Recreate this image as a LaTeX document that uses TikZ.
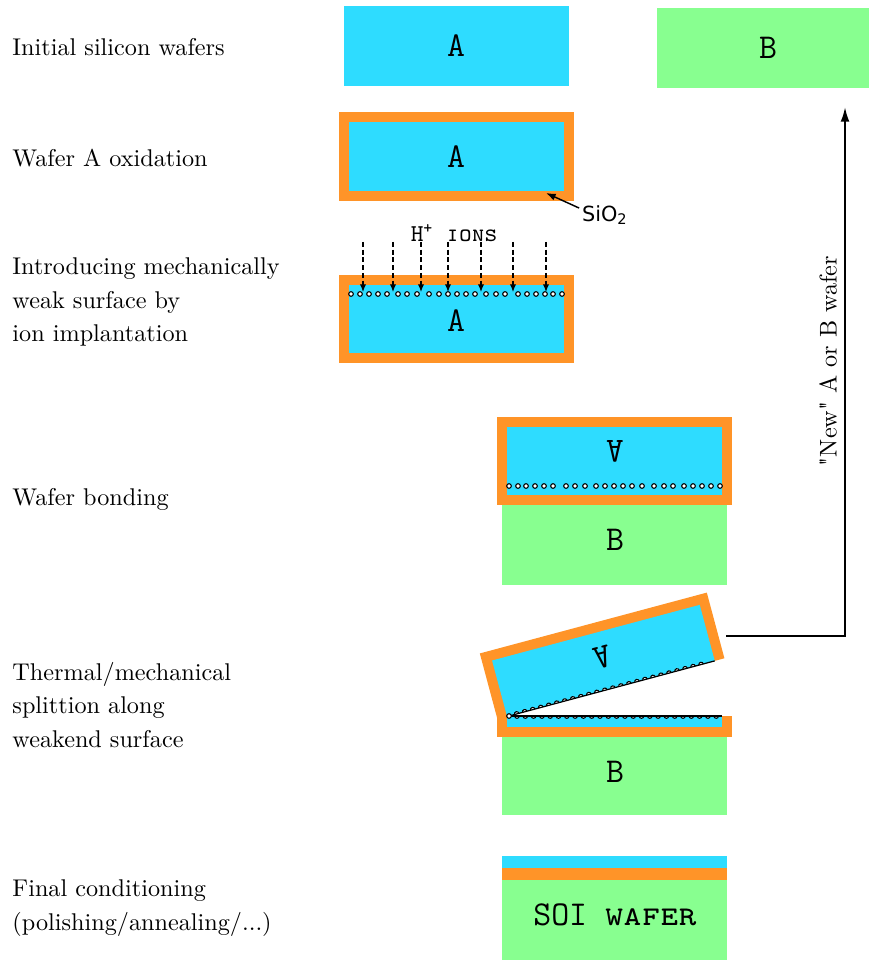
\documentclass[tikz,border=0pt]{standalone}
\usepackage{fontspec}
\newfontfamily\labelsans{DejaVu Sans}
\usetikzlibrary{arrows.meta}
\definecolor{oxide}{RGB}{255,148,40}
\definecolor{siA}{RGB}{46,220,255}
\definecolor{siB}{RGB}{136,255,144}
\begin{document}
\begin{tikzpicture}[x=0.413pt,y=-0.413pt,
  steplabel/.style={anchor=west, align=left, inner sep=0pt,
    font=\fontsize{10}{13.9}\selectfont},
  waferletter/.style={font=\Large\ttfamily, inner sep=0pt},
  pore/.style={draw=black, fill=white, line width=0.45pt},
  implant/.style={dashed, dash pattern=on 2pt off 1.2pt, line width=0.45pt,
    -{Latex[length=3.2pt,width=2.6pt]}},
  crack/.style={draw=black, line width=0.5pt},
  callout/.style={line width=0.6pt, -{Latex[length=4pt,width=3pt]}},
  recycle/.style={line width=0.8pt, -{Latex[length=6pt,width=3.6pt]}}]
\useasboundingbox (0,0) rectangle (869,960);

% step descriptions
\node[steplabel] (t1) at (12,47) {Initial silicon wafers};
\node[steplabel] (t2) at (12,158) {Wafer A oxidation};
\node[steplabel] (t3) at (12,302) {Introducing mechanically\\weak surface by\\ion implantation};
\node[steplabel] (t4) at (12,499) {Wafer bonding};
\node[steplabel] (t5) at (12,705) {Thermal/mechanical\\splittion along\\weakend surface};
\node[steplabel] (t6) at (12,908) {Final conditioning\\(polishing/annealing/...)};

% 1: bare wafers
\fill[siA] (344,6) rectangle (569,86);
\node[waferletter] (a1) at (456,46) {A};
\fill[siB] (657,8) rectangle (869,88);
\node[waferletter] (b1) at (768,48) {B};

% 2: thermal oxide around wafer A
\fill[oxide] (339,112) rectangle (574,201);
\fill[siA] (349,122) rectangle (564,191);
\node[waferletter] (a2) at (456,157) {A};
\coordinate (oxtip) at (546,193);
\node[font=\labelsans\fontsize{8.6}{10}\selectfont, inner sep=1pt] (sio) at (605,215) {SiO\textsubscript{2}};
\draw[callout] (sio.165) -- (oxtip);

% 3: hydrogen implantation
\node[font=\ttfamily, inner sep=0pt] (ions) at (454,233) {H\textsuperscript{+}\ \textsc{ions}};
\fill[oxide] (339,275) rectangle (574,363);
\fill[siA] (349,285) rectangle (564,353);
\node[waferletter] (a3) at (456,321) {A};
\foreach \x in {363,393,421,448,481,513,546}
  \draw[implant] (\x,242) -- (\x,292);
\foreach \d in {2,11,20,29,38,49,58,68,80,90,99,108,117,126,137,147,156,169,178,187,196,204,213}
  \draw[pore] (349+\d,294) circle[radius=2.3];

% 4: A flipped and bonded onto B
\fill[oxide] (497,417) rectangle (732,505);
\fill[siA] (507,427) rectangle (722,495);
\node[waferletter, rotate=180] (a4) at (615,451) {A};
\foreach \d in {2,11,20,29,38,49,58,68,80,90,99,108,117,126,137,147,156,169,178,187,196,204,213}
  \draw[pore] (722-\d,486) circle[radius=2.3];
\fill[siB] (502,505) rectangle (727,585);
\node[waferletter] (b4) at (615,540) {B};

% 5: splitting along the implanted plane (half pores on both faces)
\begin{scope}[rotate around={15:(509,716)}]
  \fill[oxide] (497,648) rectangle (732,716);
  \fill[siA] (507,658) rectangle (722,716);
  \node[waferletter, rotate=195] (a5) at (615,684) {A};
  \foreach \x in {517,525.3,...,716}
    \draw[pore] (\x-2.3,716) arc[start angle=180, end angle=360, radius=2.3];
  \draw[crack] (509,716) -- (722,716);
\end{scope}
\fill[oxide] (497,716) rectangle (732,737);
\fill[siA] (507,716) rectangle (722,727);
\foreach \x in {517,525.3,...,720}
  \draw[pore] (\x-2.3,716) arc[start angle=180, end angle=0, radius=2.3];
\draw[crack] (509,716) -- (722,716);
\draw[pore] (509,716) circle[radius=2.3];
\fill[siB] (502,737) rectangle (727,815);
\node[waferletter] (b5) at (615,772) {B};

% recycling of the split-off wafer
\coordinate (splitR) at (726,636);
\coordinate (reuse) at (845,107);
\draw[recycle] (splitR) -| (reuse);
\node[rotate=90, font=\fontsize{10}{12}\selectfont] (newlbl) at (828,361) {\textquotedbl New\textquotedbl\ A or B wafer};

% 6: finished SOI wafer
\fill[siA] (502,856) rectangle (727,868);
\fill[oxide] (502,868) rectangle (727,880);
\fill[siB] (502,880) rectangle (727,960);
\node[waferletter] (soi) at (615,915) {SOI \textsc{wafer}};
\end{tikzpicture}
\end{document}
